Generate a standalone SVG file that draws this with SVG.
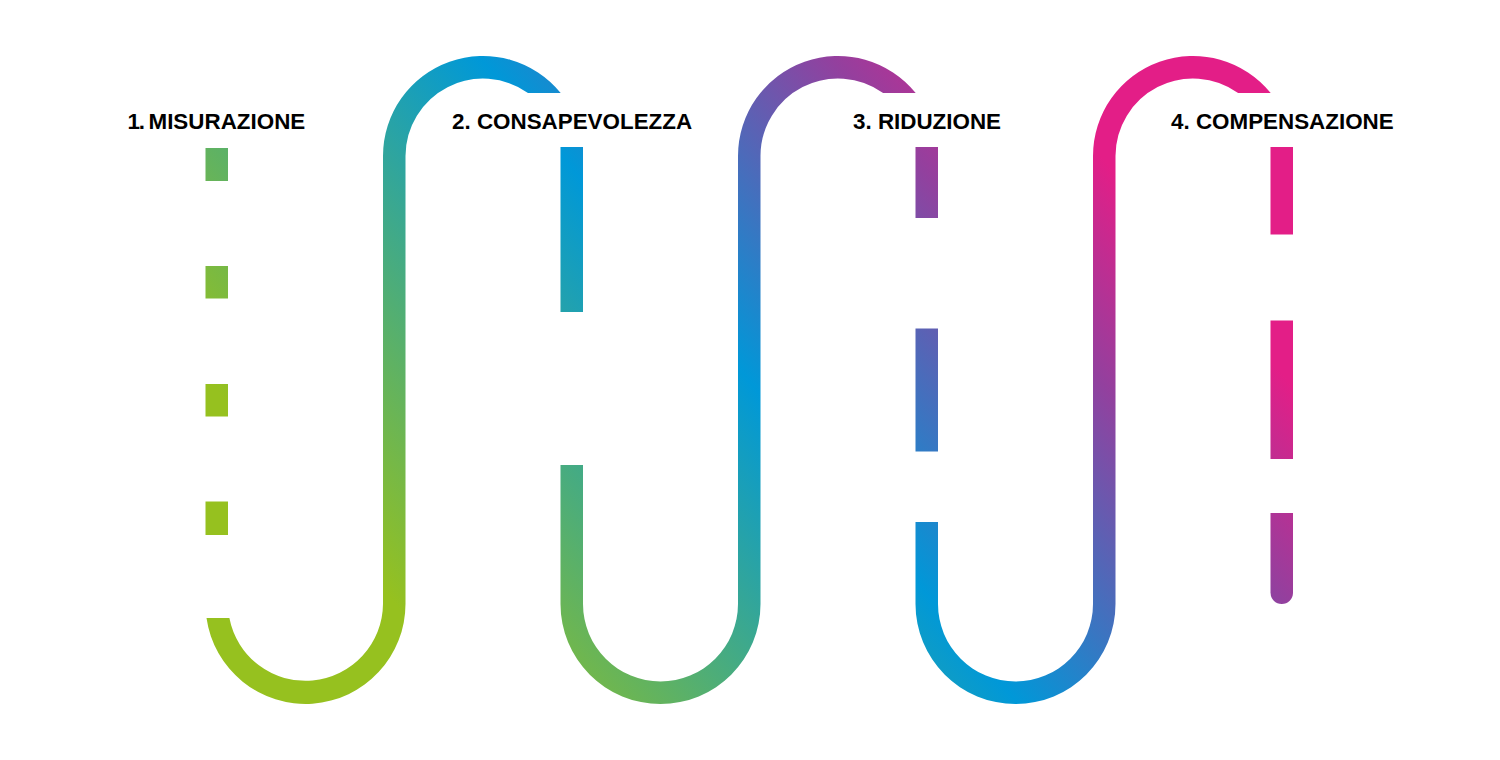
<svg xmlns="http://www.w3.org/2000/svg" width="1500" height="760" viewBox="0 0 1500 760">
<style>
.t{font-family:"Liberation Sans",Arial,sans-serif;font-weight:700;font-size:22.4px;fill:#000}
.g{fill:url(#grad)}
</style>
<defs>
<linearGradient id="grad" gradientUnits="userSpaceOnUse" x1="0" y1="130" x2="636.9" y2="-400.7">
<stop offset="0" stop-color="#96c11f"/>
<stop offset="0.5004" stop-color="#0098d8"/>
<stop offset="0.826" stop-color="#93409e"/>
<stop offset="1" stop-color="#e31e87"/>
</linearGradient>
</defs>
<rect width="1500" height="760" fill="#fff"/>
<g id="path-1">
<rect class="g" x="205.5" y="148" width="22.5" height="33"/>
<rect class="g" x="205.5" y="266" width="22.5" height="32.5"/>
<rect class="g" x="205.5" y="384" width="22.5" height="32.5"/>
<rect class="g" x="205.5" y="501.5" width="22.5" height="33.5"/>
<path class="g" d="M206.5 618A100 100 0 0 0 405.5 604V156A77.5 77.5 0 0 1 528 93H560.7A100 100 0 0 0 383 156V604A77.5 77.5 0 0 1 229.4 618Z"/>
</g>
<g id="path-2">
<rect class="g" x="560.5" y="147" width="22.5" height="165"/>
<path class="g" d="M560.5 465V604A100 100 0 0 0 760.5 604V156A77.5 77.5 0 0 1 883.1 93H915.7A100 100 0 0 0 738 156V604A77.5 77.5 0 0 1 583 604V465Z"/>
</g>
<g id="path-3">
<rect class="g" x="915.5" y="147" width="22.5" height="71"/>
<rect class="g" x="915.5" y="328.5" width="22.5" height="123"/>
<path class="g" d="M915.5 522V604A100 100 0 0 0 1115.5 604V156A77.5 77.5 0 0 1 1238.1 93H1270.7A100 100 0 0 0 1093 156V604A77.5 77.5 0 0 1 938 604V522Z"/>
</g>
<g id="path-4">
<rect class="g" x="1270.5" y="147" width="22.5" height="87.5"/>
<rect class="g" x="1270.5" y="320.5" width="22.5" height="138.5"/>
<path class="g" d="M1270.5 513V592.75A11.25 11.25 0 0 0 1293 592.75V513Z"/>
</g>
<g id="label-1"><text class="t" x="127.5" y="129"><tspan letter-spacing="-1.3">1. </tspan>MISURAZIONE</text></g>
<g id="label-2"><text class="t" x="452" y="129">2. CONSAPEVOLEZZA</text></g>
<g id="label-3"><text class="t" x="853" y="129">3. RIDUZIONE</text></g>
<g id="label-4"><text class="t" x="1171" y="129">4. COMPENSAZIONE</text></g>
</svg>
